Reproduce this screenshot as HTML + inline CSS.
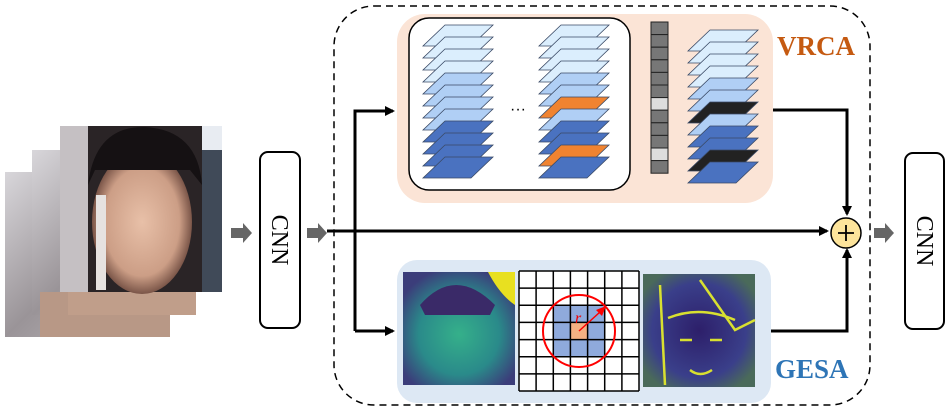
<!DOCTYPE html>
<html><head><meta charset="utf-8"><style>
html,body{margin:0;padding:0;background:#fff;}
svg{display:block;}
</style></head><body>
<svg width="949" height="415" viewBox="0 0 949 415" xmlns="http://www.w3.org/2000/svg">
<defs>
<linearGradient id="wall" x1="0" y1="0" x2="1" y2="1">
<stop offset="0" stop-color="#d8d6da"/><stop offset="0.5" stop-color="#9a9498"/><stop offset="1" stop-color="#c4bfc1"/>
</linearGradient>
<radialGradient id="skin" cx="0.5" cy="0.5" r="0.5">
<stop offset="0" stop-color="#e8c0a8"/><stop offset="0.75" stop-color="#cc9e86"/><stop offset="1" stop-color="#7a5548"/>
</radialGradient>
<radialGradient id="vir" cx="0.5" cy="0.55" r="0.6">
<stop offset="0" stop-color="#35b08a"/><stop offset="0.6" stop-color="#2a8a8a"/><stop offset="1" stop-color="#3b3d7a"/>
</radialGradient>
<radialGradient id="vir2" cx="0.5" cy="0.5" r="0.6">
<stop offset="0" stop-color="#2d1f6a"/><stop offset="0.7" stop-color="#3a3f8a"/><stop offset="1" stop-color="#4a6a5a"/>
</radialGradient>
<marker id="ah" markerWidth="10" markerHeight="10" refX="8" refY="5" orient="auto" markerUnits="userSpaceOnUse">
<path d="M0,0 L10,5 L0,10 z" fill="#000"/></marker>
</defs>

<!-- face stack -->
<rect x="5" y="172" width="165" height="165" fill="url(#wall)"/>
<rect x="32" y="150" width="164" height="165" fill="url(#wall)"/>
<rect x="40" y="292" width="130" height="45" fill="#b89886"/>
<rect x="68" y="270" width="128" height="45" fill="#c09e8a"/>
<rect x="60" y="126" width="162" height="166" fill="#2a2426"/>
<rect x="60" y="126" width="28" height="166" fill="#c5c0c3"/>
<ellipse cx="142" cy="222" rx="50" ry="72" fill="url(#skin)"/>
<path d="M88,185 Q95,126 145,127 Q198,130 202,185 L190,170 L95,170 z" fill="#151113"/>
<rect x="96" y="195" width="10" height="95" fill="#e6e2e0"/>
<rect x="202" y="150" width="20" height="142" fill="#404a58"/>
<rect x="202" y="126" width="20" height="24" fill="#e8ecf2"/>

<!-- arrows gray -->
<path d="M231,228 L243,228 L243,223 L252,233 L243,243 L243,238 L231,238 z" fill="#666"/>
<path d="M307,228 L318,228 L318,223 L327,233 L318,243 L318,238 L307,238 z" fill="#666"/>
<path d="M874,228 L885,228 L885,223 L894,233 L885,243 L885,238 L874,238 z" fill="#666"/>

<!-- CNN boxes -->
<rect x="260" y="152" width="40" height="176" rx="8" fill="#fff" stroke="#000" stroke-width="2"/>
<text transform="translate(272,240) rotate(90)" text-anchor="middle" font-family="Liberation Serif, serif" font-size="24">CNN</text>
<rect x="905" y="153" width="39" height="176" rx="8" fill="#fff" stroke="#000" stroke-width="2"/>
<text transform="translate(917,241) rotate(90)" text-anchor="middle" font-family="Liberation Serif, serif" font-size="24">CNN</text>

<!-- dashed box -->
<rect x="334" y="6" width="536" height="399" rx="40" fill="none" stroke="#000" stroke-width="1.5" stroke-dasharray="7,5"/>

<!-- VRCA bg -->
<rect x="397" y="14" width="376" height="189" rx="28" fill="#fbe4d6"/>
<rect x="409" y="18" width="221" height="172" rx="20" fill="#fff" stroke="#000" stroke-width="1.5"/>

<g stroke="#3a4a66" stroke-width="0.8">
<g>
<polygon points="445,25 493,25 471,46 423,46" fill="#dbeefd"/>
<polygon points="445,37 493,37 471,58 423,58" fill="#dbeefd"/>
<polygon points="445,49 493,49 471,70 423,70" fill="#dbeefd"/>
<polygon points="445,61 493,61 471,82 423,82" fill="#dbeefd"/>
<polygon points="445,73 493,73 471,94 423,94" fill="#b0cff5"/>
<polygon points="445,85 493,85 471,106 423,106" fill="#b0cff5"/>
<polygon points="445,97 493,97 471,118 423,118" fill="#b0cff5"/>
<polygon points="445,109 493,109 471,130 423,130" fill="#b0cff5"/>
<polygon points="445,121 493,121 471,142 423,142" fill="#4a72c0"/>
<polygon points="445,133 493,133 471,154 423,154" fill="#4a72c0"/>
<polygon points="445,145 493,145 471,166 423,166" fill="#4a72c0"/>
<polygon points="445,157 493,157 471,178 423,178" fill="#4a72c0"/>
</g>
<g transform="translate(116,0)">
<polygon points="445,25 493,25 471,46 423,46" fill="#dbeefd"/>
<polygon points="445,37 493,37 471,58 423,58" fill="#dbeefd"/>
<polygon points="445,49 493,49 471,70 423,70" fill="#dbeefd"/>
<polygon points="445,61 493,61 471,82 423,82" fill="#dbeefd"/>
<polygon points="445,73 493,73 471,94 423,94" fill="#b0cff5"/>
<polygon points="445,85 493,85 471,106 423,106" fill="#b0cff5"/>
<polygon points="445,97 493,97 471,118 423,118" fill="#f08330"/>
<polygon points="445,109 493,109 471,130 423,130" fill="#b0cff5"/>
<polygon points="445,121 493,121 471,142 423,142" fill="#4a72c0"/>
<polygon points="445,133 493,133 471,154 423,154" fill="#4a72c0"/>
<polygon points="445,145 493,145 471,166 423,166" fill="#f08330"/>
<polygon points="445,157 493,157 471,178 423,178" fill="#4a72c0"/>
</g>
<g transform="translate(265,5)">
<polygon points="445,25 493,25 471,46 423,46" fill="#dbeefd"/>
<polygon points="445,37 493,37 471,58 423,58" fill="#dbeefd"/>
<polygon points="445,49 493,49 471,70 423,70" fill="#dbeefd"/>
<polygon points="445,61 493,61 471,82 423,82" fill="#dbeefd"/>
<polygon points="445,73 493,73 471,94 423,94" fill="#b0cff5"/>
<polygon points="445,85 493,85 471,106 423,106" fill="#b0cff5"/>
<polygon points="445,97 493,97 471,118 423,118" fill="#222"/>
<polygon points="445,109 493,109 471,130 423,130" fill="#b0cff5"/>
<polygon points="445,121 493,121 471,142 423,142" fill="#4a72c0"/>
<polygon points="445,133 493,133 471,154 423,154" fill="#4a72c0"/>
<polygon points="445,145 493,145 471,166 423,166" fill="#222"/>
<polygon points="445,157 493,157 471,178 423,178" fill="#4a72c0"/>
</g>
</g>
<text x="518" y="114" text-anchor="middle" font-family="Liberation Sans, sans-serif" font-size="16">···</text>

<g stroke="#222" stroke-width="1">
<rect x="651" y="22" width="17" height="12.6" fill="#777"/>
<rect x="651" y="34.6" width="17" height="12.6" fill="#777"/>
<rect x="651" y="47.2" width="17" height="12.6" fill="#777"/>
<rect x="651" y="59.8" width="17" height="12.6" fill="#777"/>
<rect x="651" y="72.4" width="17" height="12.6" fill="#777"/>
<rect x="651" y="85" width="17" height="12.6" fill="#777"/>
<rect x="651" y="97.6" width="17" height="12.6" fill="#ddd"/>
<rect x="651" y="110.2" width="17" height="12.6" fill="#777"/>
<rect x="651" y="122.8" width="17" height="12.6" fill="#777"/>
<rect x="651" y="135.4" width="17" height="12.6" fill="#777"/>
<rect x="651" y="148" width="17" height="12.6" fill="#ddd"/>
<rect x="651" y="160.6" width="17" height="12.6" fill="#777"/>
</g>

<text x="777" y="55" font-family="Liberation Serif, serif" font-weight="bold" font-size="27" fill="#c55a11">VRCA</text>

<!-- GESA bg -->
<rect x="397" y="260" width="374" height="143" rx="20" fill="#dde8f4"/>
<rect x="403" y="272" width="112" height="113" fill="url(#vir)"/>
<path d="M488,272 L515,272 L515,305 Q500,295 488,272z" fill="#e8e020"/>
<path d="M420,305 Q455,265 495,305 L490,315 L425,315z" fill="#3a2a68"/>
<rect x="643" y="274" width="112" height="113" fill="url(#vir2)"/>
<g stroke="#d8e030" stroke-width="2.5" fill="none">
<path d="M660,285 L665,385"/><path d="M700,280 L735,330 L755,320"/>
<path d="M668,318 Q700,305 735,320"/><path d="M680,340 l12,0 M710,340 l12,0"/>
<path d="M690,370 Q700,378 712,370"/>
</g>
<g>
<rect x="519" y="271" width="120" height="120" fill="#fff"/>
<rect x="553.3" y="305.3" width="51.4" height="51.4" fill="#8faadc"/>
<rect x="570.4" y="322.4" width="17.2" height="17.2" fill="#f4b183"/>
<g stroke="#000" stroke-width="1.5">
<path d="M519,271V391M536.1,271V391M553.3,271V391M570.4,271V391M587.6,271V391M604.7,271V391M621.9,271V391M639,271V391"/>
<path d="M519,271H639M519,288.1H639M519,305.3H639M519,322.4H639M519,339.6H639M519,356.7H639M519,373.9H639M519,391H639"/>
</g>
<circle cx="579" cy="331" r="36" fill="none" stroke="#f00" stroke-width="2"/>
<line x1="579" y1="331" x2="600" y2="312" stroke="#f00" stroke-width="1.5"/>
<polygon points="606,306 596,310 602,316" fill="#f00"/>
<text x="575" y="323" font-family="Liberation Serif, serif" font-style="italic" font-size="16" fill="#e00">r</text>
</g>
<text x="775" y="378" font-family="Liberation Serif, serif" font-weight="bold" font-size="27" fill="#2e75b6">GESA</text>

<g stroke="#000" stroke-width="3" fill="none">
<line x1="327" y1="231" x2="827" y2="231" marker-end="url(#ah)"/>
<polyline points="355,331 355,111 393,111" marker-end="url(#ah)"/>
<line x1="355" y1="331" x2="393" y2="331" marker-end="url(#ah)"/>
<polyline points="773,110 847,110 847,214" marker-end="url(#ah)"/>
<polyline points="771,331 847,331 847,250" marker-end="url(#ah)"/>
</g>
<circle cx="846" cy="233" r="15" fill="#fde49b" stroke="#000" stroke-width="1.5"/>
<path d="M838,233H854M846,225V241" stroke="#000" stroke-width="1.8"/>
</svg>
</body></html>
